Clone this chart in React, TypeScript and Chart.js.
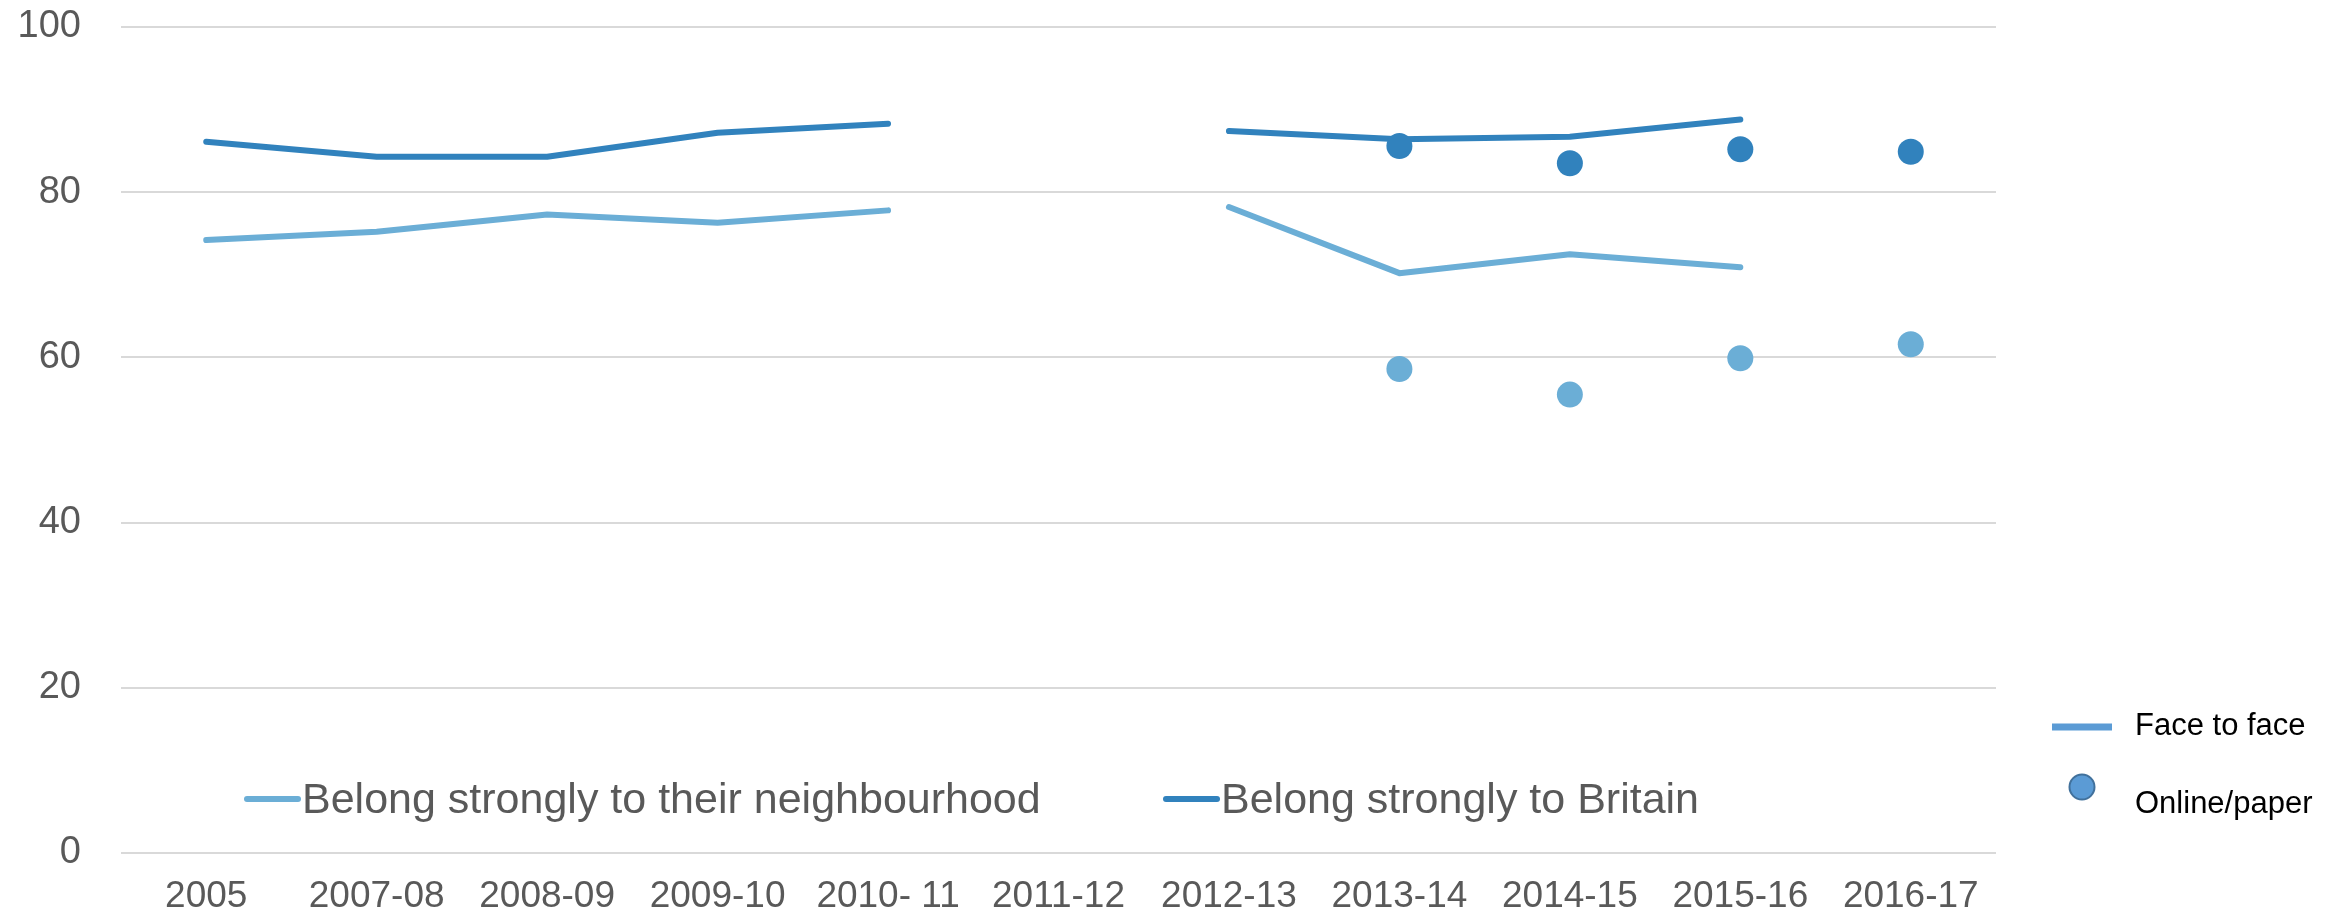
import React, { useEffect, useRef } from "react";
import { Chart, registerables } from "chart.js";

Chart.register(...registerables);

const categories = ["2005", "2007-08", "2008-09", "2009-10", "2010- 11", "2011-12", "2012-13", "2013-14", "2014-15", "2015-16", "2016-17"];
const neighbourhoodF2F = [74.2, 75.2, 77.3, 76.3, 77.8, null, 78.2, 70.2, 72.5, 70.9, null];
const britainF2F = [86.1, 84.3, 84.3, 87.2, 88.3, null, 87.4, 86.4, 86.7, 88.8, null];
const neighbourhoodOnline = [null, null, null, null, null, null, null, 58.6, 55.5, 59.9, 61.6];
const britainOnline = [null, null, null, null, null, null, null, 85.6, 83.5, 85.2, 84.9];
const yTicks = [0, 20, 40, 60, 80, 100];
const seriesLabels = ["Belong strongly to their neighbourhood", "Belong strongly to Britain"];
const modeLabels = ["Face to face", "Online/paper"];

const LIGHT = "#6BAED6";
const DARK = "#3182BD";

const legendPlugin = {
  id: "customLegends",
  afterDraw(chart: any) {
    const ctx = chart.ctx;
    ctx.save();
    // in-chart series legend
    const items = [
      { x: 244, color: LIGHT, label: seriesLabels[0] },
      { x: 1163, color: DARK, label: seriesLabels[1] },
    ];
    ctx.font = "43px 'Liberation Sans', Arial, sans-serif";
    ctx.textBaseline = "alphabetic";
    ctx.textAlign = "left";
    for (const it of items) {
      ctx.strokeStyle = it.color;
      ctx.lineWidth = 6;
      ctx.lineCap = "round";
      ctx.beginPath();
      ctx.moveTo(it.x + 3, 799);
      ctx.lineTo(it.x + 54, 799);
      ctx.stroke();
      ctx.fillStyle = "#595959";
      ctx.fillText(it.label, it.x + 58, 813);
    }
    // right mode legend
    ctx.strokeStyle = "#5B9BD5";
    ctx.lineWidth = 7;
    ctx.lineCap = "butt";
    ctx.beginPath();
    ctx.moveTo(2052, 727);
    ctx.lineTo(2112, 727);
    ctx.stroke();
    ctx.beginPath();
    ctx.arc(2082, 787, 12.5, 0, Math.PI * 2);
    ctx.fillStyle = "#5B9BD5";
    ctx.fill();
    ctx.lineWidth = 2;
    ctx.strokeStyle = "#41719C";
    ctx.stroke();
    ctx.fillStyle = "#000000";
    ctx.font = "31px 'Liberation Sans', Arial, sans-serif";
    ctx.fillText(modeLabels[0], 2135, 735);
    ctx.fillText(modeLabels[1], 2135, 813);
    ctx.restore();
  },
};

export default function App() {
  const ref = useRef<HTMLCanvasElement>(null);
  useEffect(() => {
    if (!ref.current) return;
    const chart = new Chart(ref.current, {
      type: "line",
      data: {
        labels: categories,
        datasets: [
          {
            label: seriesLabels[0] + " (online)",
            data: neighbourhoodOnline,
            showLine: false,
            pointRadius: 13,
            pointBackgroundColor: LIGHT,
            pointBorderWidth: 0,
            borderColor: LIGHT,
            backgroundColor: LIGHT,
          },
          {
            label: seriesLabels[1] + " (online)",
            data: britainOnline,
            showLine: false,
            pointRadius: 13,
            pointBackgroundColor: DARK,
            pointBorderWidth: 0,
            borderColor: DARK,
            backgroundColor: DARK,
          },
          {
            label: seriesLabels[0],
            data: neighbourhoodF2F,
            borderColor: LIGHT,
            borderWidth: 6,
            pointRadius: 0,
            borderCapStyle: "round",
            borderJoinStyle: "round",
            spanGaps: false,
            tension: 0,
          },
          {
            label: seriesLabels[1],
            data: britainF2F,
            borderColor: DARK,
            borderWidth: 6,
            pointRadius: 0,
            borderCapStyle: "round",
            borderJoinStyle: "round",
            spanGaps: false,
            tension: 0,
          },
        ],
      },
      options: {
        responsive: false,
        animation: false,
        layout: { padding: { left: 0, right: 345, top: 27, bottom: 0 } },
        plugins: {
          legend: { display: false },
          tooltip: { enabled: false },
        },
        scales: {
          x: {
            offset: true,
            grid: { display: false, drawTicks: false, offset: true },
            border: { display: false },
            ticks: {
              color: "#595959",
              font: { family: "'Liberation Sans', Arial, sans-serif", size: 37 },
              padding: 22,
              maxRotation: 0,
              autoSkip: false,
            },
            afterFit: (s: any) => {
              s.height = 60;
              s.paddingLeft = 0;
              s.paddingRight = 0;
            },
          },
          y: {
            min: 0,
            max: 100,
            grid: { color: "#D9D9D9", lineWidth: 2, drawTicks: false },
            border: { display: false },
            afterBuildTicks: (s: any) => {
              s.ticks = yTicks.map((v) => ({ value: v }));
            },
            ticks: {
              color: "#595959",
              font: { family: "'Liberation Sans', Arial, sans-serif", size: 38 },
              padding: 40,
            },
            afterFit: (s: any) => {
              s.width = 121;
              s.paddingTop = 0;
              s.paddingBottom = 0;
            },
          },
        },
      },
      plugins: [legendPlugin],
    });
    return () => chart.destroy();
  }, []);
  return (
    <div style={{ position: "absolute", left: 0, top: 0, width: 2341, height: 913, background: "#fff" }}>
      <canvas ref={ref} width={2341} height={913} style={{ display: "block" }} />
    </div>
  );
}
